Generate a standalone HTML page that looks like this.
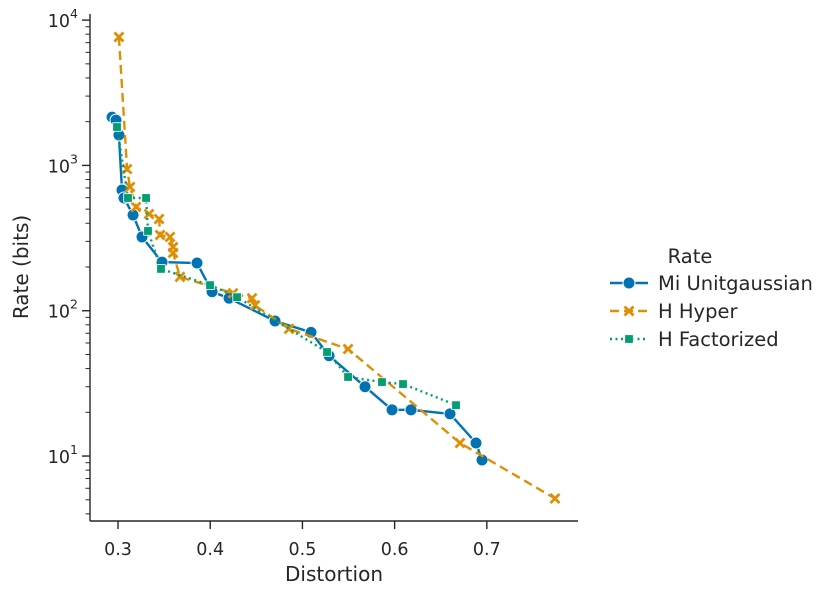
<!DOCTYPE html>
<html><head><meta charset="utf-8"><style>
body{margin:0;background:#fff;}
svg text{font-family:"DejaVu Sans","Liberation Sans",sans-serif;fill:#262626;}
</style></head><body>
<svg id="chart" width="830" height="596" xmlns="http://www.w3.org/2000/svg">
<g id="plot"></g>
<g id="axes"></g>
<g id="legend"></g>
</svg>
<script>
const xTicks=[0.3,0.4,0.5,0.6,0.7];
const xTickLabels=["0.3","0.4","0.5","0.6","0.7"];
const yTickExps=[1,2,3,4];
const seriesNames=["Mi Unitgaussian","H Hyper","H Factorized"];
const blueD=[0.2935,0.2978,0.301,0.3043,0.3065,0.3163,0.326,0.3477,0.3857,0.402,0.4204,0.4703,0.5093,0.5289,0.5679,0.5972,0.6178,0.6601,0.6883,0.6948];
const blueR=[2150,2050,1620,677,597,456,322,216,213,135,122,85,71,49,30,20.8,20.8,19.5,12.3,9.4];
const orangeD=[0.301,0.3098,0.313,0.3195,0.3336,0.3445,0.3456,0.3564,0.3597,0.3597,0.3672,0.4247,0.4453,0.4486,0.4855,0.5495,0.6709,0.7739];
const orangeR=[7650,944,710,517,463,428,332,322,274,250,171,132,122,109,75,54.5,12.3,5.1];
const greenD=[0.2989,0.3108,0.3304,0.3325,0.3466,0.3998,0.4291,0.5267,0.5495,0.5863,0.6091,0.6666];
const greenR=[1838,597,597,354,194,150,124,52,35,32.3,31.3,22.4];

const NS="http://www.w3.org/2000/svg";
const X0=90,X1=578,Y0=521,Y1=14;
const xmin=0.2696,xmax=0.7989,lmin=0.553,lmax=4.042;
const xs=d=>X0+(d-xmin)/(xmax-xmin)*(X1-X0);
const ys=r=>Y0-(Math.log10(r)-lmin)/(lmax-lmin)*(Y0-Y1);
function mk(tag,attrs,parent){const e=document.createElementNS(NS,tag);for(const k in attrs)e.setAttribute(k,attrs[k]);parent.appendChild(e);return e;}
const plot=document.getElementById('plot'),axes=document.getElementById('axes'),legend=document.getElementById('legend');
const colors=["#0173b2","#de8f05","#029e73"];
const dashes=["none","9,5","2,3.5"];
function marker(type,x,y,c,parent){
  let e;
  if(type===0){e=mk('circle',{cx:x,cy:y,r:6,fill:c,stroke:'#fff','stroke-width':1},parent);}
  else if(type===1){e=mk('path',{d:`M${x-4.5},${y-4.5}L${x+4.5},${y+4.5}M${x+4.5},${y-4.5}L${x-4.5},${y+4.5}`,stroke:c,'stroke-width':2.8,fill:'none'},parent);}
  else {e=mk('rect',{x:x-4.3,y:y-4.3,width:8.6,height:8.6,fill:c,stroke:'#fff','stroke-width':0.8},parent);}
  return e;
}
const data=[[blueD,blueR],[orangeD,orangeR],[greenD,greenR]];
data.forEach((s,i)=>{
  const pts=s[0].map((d,j)=>xs(d).toFixed(1)+','+ys(s[1][j]).toFixed(1)).join(' ');
  const l=mk('polyline',{points:pts,fill:'none',stroke:colors[i],'stroke-width':2.4,'stroke-dasharray':dashes[i]},plot);
  
  
  s[0].forEach((d,j)=>{
    const m=marker(i,xs(d),ys(s[1][j]),colors[i],plot);
    
    
  });
});
const sl=mk('line',{x1:X0,y1:Y1,x2:X0,y2:Y0,stroke:'#262626','stroke-width':1.4},axes);


const sb=mk('line',{x1:X0,y1:Y0,x2:X1,y2:Y0,stroke:'#262626','stroke-width':1.4},axes);


xTicks.forEach((t,i)=>{
  const x=xs(t);
  const tk=mk('line',{x1:x,y1:Y0,x2:x,y2:Y0+8,stroke:'#262626','stroke-width':1.4},axes);
  
  
  const tx=mk('text',{x:x,y:Y0+34,'text-anchor':'middle','font-size':17.5},axes);
  tx.textContent=xTickLabels[i];
  
  
});
yTickExps.forEach(e=>{
  const y=ys(Math.pow(10,e));
  const tk=mk('line',{x1:X0-8,y1:y,x2:X0,y2:y,stroke:'#262626','stroke-width':1.4},axes);
  
  
  const tx=mk('text',{x:X0-12,y:y+7,'text-anchor':'end','font-size':17.5},axes);
  tx.innerHTML='10<tspan dy="-9" font-size="12.5">'+e+'</tspan>';
  
  
});
for(let e=0;e<=4;e++){for(let m=2;m<=9;m++){const v=m*Math.pow(10,e);const lv=Math.log10(v);if(lv<lmin||lv>lmax)continue;const y=ys(v);
  const tk=mk('line',{x1:X0-4.5,y1:y,x2:X0,y2:y,stroke:'#262626','stroke-width':1},axes);
  
  }}
const xl=mk('text',{x:334,y:581,'text-anchor':'middle','font-size':20},axes);
xl.textContent='Distortion';


const yl=mk('text',{x:0,y:0,'text-anchor':'middle','font-size':20,transform:'translate(28,267) rotate(-90)'},axes);
yl.textContent='Rate (bits)';


const lt=mk('text',{x:690,y:263,'text-anchor':'middle','font-size':19.5},legend);
lt.textContent='Rate';


seriesNames.forEach((n,i)=>{
  const y=283+i*28;
  const g=mk('g',{},legend);
  
  
  mk('line',{x1:610,y1:y,x2:648,y2:y,stroke:colors[i],'stroke-width':2.4,'stroke-dasharray':dashes[i]},g);
  marker(i,629,y,colors[i],g);
  const t=mk('text',{x:658,y:y+7,'font-size':19.5},g);
  t.textContent=n;
});
</script>
</body></html>
